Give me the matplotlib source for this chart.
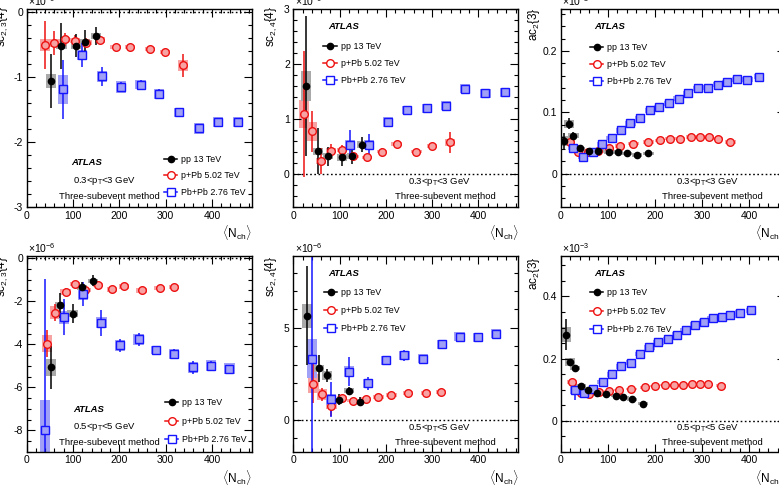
import matplotlib
matplotlib.use('Agg')
import matplotlib.pyplot as plt
from matplotlib.lines import Line2D
from matplotlib.ticker import MultipleLocator, FuncFormatter

plt.rcParams['font.family'] = ['Liberation Sans', 'DejaVu Sans']
plt.rcParams['mathtext.fontset'] = 'custom'
plt.rcParams['mathtext.rm'] = 'Liberation Sans'
plt.rcParams['mathtext.it'] = 'Liberation Sans:italic'
plt.rcParams['mathtext.bf'] = 'Liberation Sans:bold'
plt.rcParams['axes.unicode_minus'] = False

# ---- data ----
# panel 1: sc_{2,3}{4}, 0.3<pT<3 GeV  (x1e-6)
p1_pp_x = [53, 75, 106, 125, 150]
p1_pp_y = [-1.06, -0.52, -0.52, -0.46, -0.37]
p1_pp_stat = [0.41, 0.35, 0.18, 0.18, 0.14]
p1_pp_syst = [0.11, 0.05, 0.05, 0.05, 0.04]
p1_ppb_x = [40, 60, 82, 105, 129, 158, 192, 224, 267, 298, 337]
p1_ppb_y = [-0.51, -0.48, -0.42, -0.44, -0.47, -0.43, -0.54, -0.54, -0.57, -0.62, -0.82]
p1_ppb_stat = [0.37, 0.18, 0.1, 0.08, 0.07, 0.05, 0.05, 0.05, 0.04, 0.04, 0.18]
p1_ppb_syst = [0.09, 0.06, 0.04, 0.04, 0.04, 0.04, 0.03, 0.03, 0.03, 0.03, 0.08]
p1_pbpb_x = [78.5, 120, 162, 204, 246, 285, 329, 372, 414, 457]
p1_pbpb_y = [-1.19, -0.66, -0.99, -1.15, -1.12, -1.26, -1.54, -1.79, -1.69, -1.69]
p1_pbpb_stat = [0.45, 0.18, 0.15, 0.08, 0.07, 0.07, 0.06, 0.07, 0.06, 0.05]
p1_pbpb_syst = [0.22, 0.08, 0.09, 0.09, 0.07, 0.07, 0.07, 0.08, 0.07, 0.07]

# panel 2: sc_{2,4}{4}, 0.3<pT<3 GeV  (x1e-6)
p2_pp_x = [28, 53, 75, 106, 126, 149]
p2_pp_y = [1.61, 0.42, 0.33, 0.31, 0.33, 0.54]
p2_pp_stat = [1.27, 0.42, 0.17, 0.15, 0.15, 0.13]
p2_pp_syst = [0.27, 0.06, 0.06, 0.06, 0.06, 0.06]
p2_ppb_x = [23, 40, 60, 82, 105, 130, 159, 192, 223, 266, 299, 339]
p2_ppb_y = [1.10, 0.78, 0.24, 0.43, 0.44, 0.33, 0.31, 0.41, 0.55, 0.41, 0.51, 0.58]
p2_ppb_stat = [1.15, 0.38, 0.24, 0.12, 0.1, 0.07, 0.06, 0.06, 0.05, 0.05, 0.06, 0.19]
p2_ppb_syst = [0.25, 0.18, 0.05, 0.04, 0.04, 0.03, 0.03, 0.03, 0.03, 0.03, 0.04, 0.06]
p2_pbpb_x = [122, 163, 205, 246, 288, 330, 371, 415, 458]
p2_pbpb_y = [0.54, 0.54, 0.95, 1.17, 1.20, 1.25, 1.56, 1.47, 1.49]
p2_pbpb_stat = [0.26, 0.2, 0.08, 0.08, 0.08, 0.07, 0.06, 0.06, 0.06]
p2_pbpb_syst = [0.08, 0.08, 0.09, 0.08, 0.08, 0.08, 0.08, 0.08, 0.08]

# panel 3: ac_2{3}, 0.3<pT<3 GeV  (x1e-3)
p3_pp_x = [8, 18, 27, 40, 59, 80, 103, 122, 141, 162, 186]
p3_pp_y = [0.053, 0.081, 0.062, 0.041, 0.0375, 0.0375, 0.0355, 0.035, 0.033, 0.030, 0.033]
p3_pp_stat = [0.013, 0.009, 0.006, 0.004, 0.003, 0.003, 0.003, 0.003, 0.003, 0.003, 0.004]
p3_pp_syst = [0.008, 0.006, 0.004, 0.003, 0.003, 0.003, 0.003, 0.003, 0.003, 0.003, 0.003]
p3_ppb_x = [20, 37, 58, 80, 103, 126, 154, 186, 211, 232, 253, 277, 295, 314, 333, 360]
p3_ppb_y = [0.052, 0.036, 0.036, 0.037, 0.041, 0.045, 0.049, 0.052, 0.054, 0.057, 0.057,
            0.060, 0.060, 0.060, 0.057, 0.051]
p3_ppb_stat = [0.004] + [0.002] * 15
p3_ppb_syst = [0.004] + [0.003] * 15
p3_pbpb_x = [27, 47, 68, 88, 108, 128, 148, 168, 189, 209, 230, 250, 270, 291, 312, 333,
             353, 374, 396, 421]
p3_pbpb_y = [0.042, 0.027, 0.035, 0.048, 0.058, 0.071, 0.082, 0.090, 0.103, 0.108, 0.115,
             0.122, 0.131, 0.139, 0.140, 0.145, 0.149, 0.154, 0.153, 0.158]
p3_pbpb_stat = [0.004] + [0.002] * 19
p3_pbpb_syst = [0.004] * 20

# panel 4: sc_{2,3}{4}, 0.5<pT<5 GeV  (x1e-6)
p4_pp_x = [52.5, 72, 99, 120, 143]
p4_pp_y = [-5.07, -2.19, -2.58, -1.36, -1.05]
p4_pp_stat = [1.0, 0.58, 0.45, 0.25, 0.25]
p4_pp_syst = [0.4, 0.15, 0.15, 0.1, 0.1]
p4_ppb_x = [44, 61, 84, 105, 127, 154, 184, 211, 248, 287, 319]
p4_ppb_y = [-3.98, -2.53, -1.58, -1.20, -1.47, -1.25, -1.45, -1.31, -1.50, -1.39, -1.34]
p4_ppb_stat = [0.63, 0.4, 0.2, 0.12, 0.1, 0.1, 0.1, 0.1, 0.1, 0.1, 0.12]
p4_ppb_syst = [0.4, 0.3, 0.15, 0.1, 0.1, 0.1, 0.1, 0.1, 0.1, 0.1, 0.1]
p4_pbpb_x = [40.3, 80.5, 122, 161.5, 202, 241.5, 280, 319, 359, 398.5, 438]
p4_pbpb_y = [-7.98, -2.74, -1.68, -3.0, -4.04, -3.77, -4.27, -4.45, -5.07, -4.99, -5.14]
p4_pbpb_stat = [7.0, 0.85, 0.55, 0.6, 0.3, 0.3, 0.2, 0.25, 0.3, 0.2, 0.2]
p4_pbpb_syst = [1.4, 0.3, 0.25, 0.25, 0.25, 0.25, 0.2, 0.25, 0.25, 0.25, 0.25]

# panel 5: sc_{2,4}{4}, 0.5<pT<5 GeV  (x1e-6)
p5_pp_x = [29.6, 55, 72, 98, 121, 144]
p5_pp_y = [5.66, 2.79, 2.41, 1.08, 1.58, 0.99]
p5_pp_stat = [2.67, 0.75, 0.35, 0.3, 0.2, 0.25]
p5_pp_syst = [0.65, 0.2, 0.25, 0.1, 0.15, 0.1]
p5_ppb_x = [43.5, 61.5, 82.5, 106, 128, 156, 184, 212, 248, 286, 319]
p5_ppb_y = [1.96, 1.39, 0.74, 1.17, 1.04, 1.12, 1.24, 1.36, 1.47, 1.44, 1.51]
p5_ppb_stat = [1.07, 0.35, 0.54, 0.12, 0.1, 0.08, 0.08, 0.08, 0.08, 0.08, 0.08]
p5_ppb_syst = [0.52, 0.3, 0.15, 0.12, 0.1, 0.1, 0.1, 0.1, 0.1, 0.1, 0.1]
p5_pbpb_x = [40, 81, 121, 161, 200, 240, 281, 321, 359, 399, 438]
p5_pbpb_y = [3.33, 1.11, 2.61, 1.98, 3.24, 3.51, 3.31, 4.10, 4.51, 4.48, 4.68]
p5_pbpb_stat = [6.0, 0.95, 0.78, 0.35, 0.25, 0.3, 0.2, 0.2, 0.15, 0.15, 0.15]
p5_pbpb_syst = [1.05, 0.3, 0.3, 0.25, 0.25, 0.25, 0.25, 0.25, 0.25, 0.25, 0.25]

# panel 6: ac_2{3}, 0.5<pT<5 GeV  (x1e-3)
p6_pp_x = [11, 20, 30, 42, 58.5, 78, 95, 117, 133, 151, 174]
p6_pp_y = [0.277, 0.19, 0.17, 0.113, 0.099, 0.089, 0.086, 0.0815, 0.076, 0.069, 0.055]
p6_pp_stat = [0.05, 0.01, 0.007, 0.005, 0.004, 0.004, 0.004, 0.004, 0.004, 0.004, 0.004]
p6_pp_syst = [0.025, 0.012, 0.008, 0.006, 0.005, 0.005, 0.005, 0.005, 0.005, 0.005, 0.005]
p6_ppb_x = [24, 44, 60, 81, 102, 124, 150, 179, 200, 221, 241, 260, 278, 295, 312, 340]
p6_ppb_y = [0.126, 0.091, 0.088, 0.092, 0.096, 0.099, 0.103, 0.108, 0.112, 0.116, 0.116,
            0.116, 0.119, 0.119, 0.117, 0.113]
p6_ppb_stat = [0.004] * 16
p6_ppb_syst = [0.006] + [0.004] * 15
p6_pbpb_x = [30, 49, 69, 89, 109, 128, 149, 168, 188, 207, 227, 246, 265, 285, 304, 322,
             341, 360, 380, 403]
p6_pbpb_y = [0.098, 0.089, 0.101, 0.125, 0.150, 0.176, 0.187, 0.215, 0.237, 0.252, 0.263,
             0.277, 0.291, 0.309, 0.318, 0.330, 0.333, 0.339, 0.348, 0.355]
p6_pbpb_stat = [0.03, 0.01] + [0.004] * 18
p6_pbpb_syst = [0.01] + [0.008] * 19

labels = ['pp 13 TeV', 'p+Pb 5.02 TeV', 'Pb+Pb 2.76 TeV']

RED, BLUE = '#ee1111', '#1515ff'
GREY_BOX, RED_BOX, BLUE_BOX = '#a9a9a9', '#f8a3a3', '#a0a0f6'

W, H = 779, 487
fig = plt.figure(figsize=(W / 100, H / 100), dpi=100)


def make_axes(left, top, width, height):
    return fig.add_axes([left / W, 1 - (top + height) / H, width / W, height / H])


def draw(ax, x, y, stat, syst, color, box, marker, filled, ms):
    # systematic boxes, then statistical bars, then markers on top
    ax.bar(x, [2 * s for s in syst], bottom=[v - s for v, s in zip(y, syst)],
           width=22, color=box, linewidth=0, zorder=1)
    ax.errorbar(x, y, yerr=stat, fmt='none', ecolor=color, elinewidth=1.1, capsize=0, zorder=2)
    ax.plot(x, y, linestyle='none', marker=marker, ms=ms, mec=color, mew=1.0,
            mfc=color if filled else box, zorder=3)


def style(ax, xmax, ylim, ymaj, ymin, ylabel, ylab_xy, expo):
    ax.set_xlim(0, xmax)
    ax.set_ylim(*ylim)
    ax.axhline(0, color='black', linestyle=(0, (1.2, 1.8)), linewidth=1.0, zorder=0.5)
    ax.xaxis.set_major_locator(MultipleLocator(100))
    ax.xaxis.set_minor_locator(MultipleLocator(20))
    ax.yaxis.set_major_locator(MultipleLocator(ymaj))
    ax.yaxis.set_minor_locator(MultipleLocator(ymin))
    ax.yaxis.set_major_formatter(FuncFormatter(lambda v, p: f'{v:g}'))
    ax.tick_params(which='both', direction='in', top=True, right=True, labelsize=7.5, width=0.8)
    ax.tick_params(which='major', length=5.5, pad=2.5)
    ax.tick_params(which='minor', length=3)
    for s in ax.spines.values():
        s.set_linewidth(1.0)
    ax.set_ylabel(ylabel, loc='top', fontsize=8.5)
    ax.yaxis.set_label_coords(*ylab_xy)
    ax.annotate(expo, xy=(0, 1), xycoords='axes fraction', xytext=(1, 1),
                textcoords='offset points', ha='left', va='bottom', fontsize=7.5)
    ax.text(1.0, -0.08, r'$\langle$N$_{\rm ch}$$\rangle$', transform=ax.transAxes,
            ha='right', va='top', fontsize=8.5)


def legend(ax, x0, y0, spacing):
    handles = [
        Line2D([], [], color='black', marker='o', ms=4.5, mfc='black', lw=1.1),
        Line2D([], [], color=RED, marker='o', ms=5.5, mfc='white', lw=1.1),
        Line2D([], [], color=BLUE, marker='s', ms=5.5, mfc='white', lw=1.1),
    ]
    ax.legend(handles, labels, loc='upper left', bbox_to_anchor=(x0, y0), frameon=False,
              fontsize=6.4, handlelength=1.5, handletextpad=0.45, labelspacing=spacing,
              borderpad=0, borderaxespad=0)


def texts(ax, atlas_xy, pt_xy, pt_text, meth_xy):
    ax.text(*atlas_xy, 'ATLAS', transform=ax.transAxes, fontsize=6.8, fontweight='bold',
            fontstyle='italic', va='center')
    ax.text(*pt_xy, pt_text, transform=ax.transAxes, fontsize=6.8, va='center')
    ax.text(*meth_xy, 'Three-subevent method', transform=ax.transAxes, fontsize=6.8,
            va='center')


pt_low = r'0.3<p$_{\rm T}$<3 GeV'
pt_high = r'0.5<p$_{\rm T}$<5 GeV'

# ---- top row ----
ax1 = make_axes(26.7, 9.3, 225, 198)
draw(ax1, p1_ppb_x, p1_ppb_y, p1_ppb_stat, p1_ppb_syst, RED, RED_BOX, 'o', False, 5.5)
draw(ax1, p1_pbpb_x, p1_pbpb_y, p1_pbpb_stat, p1_pbpb_syst, BLUE, BLUE_BOX, 's', False, 5.5)
draw(ax1, p1_pp_x, p1_pp_y, p1_pp_stat, p1_pp_syst, 'black', GREY_BOX, 'o', True, 4.5)
style(ax1, 486, (-3, 0.04), 1, 0.2, r'sc$_{2,3}${4}', (-0.075, 1.02), r'$\times$10$^{-6}$')
legend(ax1, 0.61, 0.265, 0.85)
texts(ax1, (0.2, 0.224), (0.205, 0.133), pt_low, (0.143, 0.056))

ax2 = make_axes(293.3, 9.3, 225, 198)
draw(ax2, p2_ppb_x, p2_ppb_y, p2_ppb_stat, p2_ppb_syst, RED, RED_BOX, 'o', False, 5.5)
draw(ax2, p2_pbpb_x, p2_pbpb_y, p2_pbpb_stat, p2_pbpb_syst, BLUE, BLUE_BOX, 's', False, 5.5)
draw(ax2, p2_pp_x, p2_pp_y, p2_pp_stat, p2_pp_syst, 'black', GREY_BOX, 'o', True, 4.5)
style(ax2, 486, (-0.6, 3), 1, 0.2, r'sc$_{2,4}${4}', (-0.062, 1.02), r'$\times$10$^{-6}$')
legend(ax2, 0.133, 0.833, 0.9)
texts(ax2, (0.155, 0.911), (0.511, 0.128), pt_low, (0.452, 0.057))

ax3 = make_axes(560.7, 9.3, 224, 198)
draw(ax3, p3_ppb_x, p3_ppb_y, p3_ppb_stat, p3_ppb_syst, RED, RED_BOX, 'o', False, 5.5)
draw(ax3, p3_pbpb_x, p3_pbpb_y, p3_pbpb_stat, p3_pbpb_syst, BLUE, BLUE_BOX, 's', False, 5.5)
draw(ax3, p3_pp_x, p3_pp_y, p3_pp_stat, p3_pp_syst, 'black', GREY_BOX, 'o', True, 4.5)
style(ax3, 475, (-0.055, 0.268), 0.1, 0.02, r'ac$_2${3}', (-0.085, 1.01), r'$\times$10$^{-3}$')
legend(ax3, 0.131, 0.828, 0.9)
texts(ax3, (0.149, 0.911), (0.515, 0.128), pt_low, (0.454, 0.057))

# ---- bottom row ----
ax4 = make_axes(26.7, 256, 225, 196)
draw(ax4, p4_ppb_x, p4_ppb_y, p4_ppb_stat, p4_ppb_syst, RED, RED_BOX, 'o', False, 5.5)
draw(ax4, p4_pbpb_x, p4_pbpb_y, p4_pbpb_stat, p4_pbpb_syst, BLUE, BLUE_BOX, 's', False, 5.5)
draw(ax4, p4_pp_x, p4_pp_y, p4_pp_stat, p4_pp_syst, 'black', GREY_BOX, 'o', True, 4.5)
style(ax4, 486, (-9, 0.1), 2, 0.5, r'sc$_{2,3}${4}', (-0.075, 1.0), r'$\times$10$^{-6}$')
legend(ax4, 0.615, 0.275, 1.08)
texts(ax4, (0.206, 0.219), (0.206, 0.128), pt_high, (0.144, 0.051))

ax5 = make_axes(293.3, 256, 225, 196)
draw(ax5, p5_ppb_x, p5_ppb_y, p5_ppb_stat, p5_ppb_syst, RED, RED_BOX, 'o', False, 5.5)
draw(ax5, p5_pbpb_x, p5_pbpb_y, p5_pbpb_stat, p5_pbpb_syst, BLUE, BLUE_BOX, 's', False, 5.5)
draw(ax5, p5_pp_x, p5_pp_y, p5_pp_stat, p5_pp_syst, 'black', GREY_BOX, 'o', True, 4.5)
style(ax5, 486, (-1.75, 8.9), 5, 1, r'sc$_{2,4}${4}', (-0.062, 1.0), r'$\times$10$^{-6}$')
legend(ax5, 0.137, 0.838, 1.05)
texts(ax5, (0.156, 0.913), (0.511, 0.122), pt_high, (0.452, 0.051))

ax6 = make_axes(560.7, 256, 224, 196)
draw(ax6, p6_ppb_x, p6_ppb_y, p6_ppb_stat, p6_ppb_syst, RED, RED_BOX, 'o', False, 5.5)
draw(ax6, p6_pbpb_x, p6_pbpb_y, p6_pbpb_stat, p6_pbpb_syst, BLUE, BLUE_BOX, 's', False, 5.5)
draw(ax6, p6_pp_x, p6_pp_y, p6_pp_stat, p6_pp_syst, 'black', GREY_BOX, 'o', True, 4.5)
style(ax6, 475, (-0.1, 0.53), 0.2, 0.05, r'ac$_2${3}', (-0.085, 1.0), r'$\times$10$^{-3}$')
legend(ax6, 0.131, 0.835, 1.05)
texts(ax6, (0.149, 0.913), (0.515, 0.122), pt_high, (0.454, 0.051))

fig.savefig('out.png', dpi=100)
